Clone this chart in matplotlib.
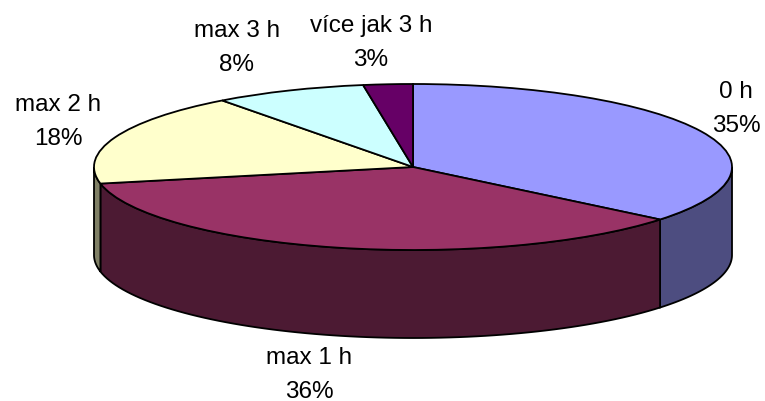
import matplotlib
matplotlib.use("Agg")
import matplotlib.pyplot as plt
import numpy as np

categories = ["0 h", "max 1 h", "max 2 h", "max 3 h", "více jak 3 h"]
values = [35.9, 35.9, 18.0, 7.7, 2.5]
percents = [35, 36, 18, 8, 3]

top_colors = ["#9999FF", "#993366", "#FFFFCC", "#CCFFFF", "#660066"]
side_colors = ["#4D4D80", "#4C1A33", "#808066", "#668080", "#330033"]

# label centres in image pixels
label_pos = [(736, 109), (309, 375), (58, 122), (237, 48), (371, 43)]

W, H = 765, 401
cx, cy = 413, 167      # pie centre, px
rx, ry = 319, 83       # ellipse radii, px
depth = 88 / ry        # wall height in data units

plt.rcParams["font.family"] = ["Liberation Sans", "DejaVu Sans"]

fig = plt.figure(figsize=(W / 100, H / 100), dpi=100)
ax = fig.add_axes([0, 0, 1, 1])

wedges, _ = ax.pie(
    values,
    colors=top_colors,
    startangle=90,
    counterclock=False,
    radius=1,
    center=(0, 0),
    wedgeprops=dict(edgecolor="black", linewidth=1.3, zorder=3),
)

# flatten the pie into an ellipse
ax.set_aspect("auto")
ax.set_xlim(-cx / rx, (W - cx) / rx)
ax.set_ylim(-(H - cy) / ry, cy / ry)
ax.axis("off")

# side walls, only the front half of the rim is visible
for w, col in zip(wedges, side_colors):
    t1 = w.theta1
    t2 = w.theta2
    if t1 > 0:
        t1 -= 360
        t2 -= 360
    a = max(t1, -180)
    b = min(t2, 0)
    if b <= a:
        continue
    t = np.radians(np.linspace(a, b, 80))
    xs = np.cos(t)
    ys = np.sin(t)
    ax.fill(
        np.r_[xs, xs[::-1]],
        np.r_[ys, ys[::-1] - depth],
        facecolor=col,
        edgecolor="black",
        linewidth=1.3,
        zorder=2,
    )

for name, pct, (px, py) in zip(categories, percents, label_pos):
    fig.text(
        px / W,
        1 - py / H,
        f"{name}\n{pct}%",
        ha="center",
        va="center",
        ma="center",
        fontsize=17.5,
        linespacing=1.65,
        color="black",
    )

fig.savefig("out.png", dpi=100)
